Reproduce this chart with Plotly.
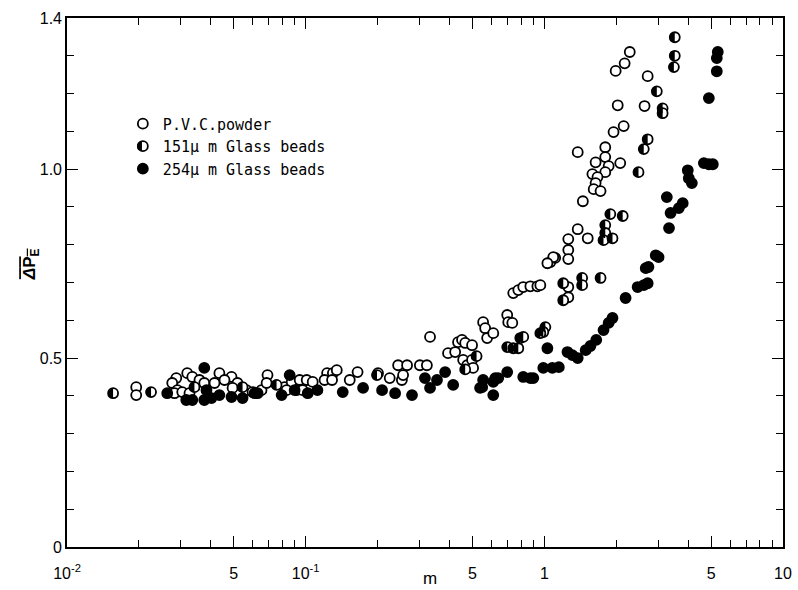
import plotly.graph_objects as go

# ---- data (m, dimensionless pressure drop) ----
pvc_m = [0.0195, 0.0195, 0.0287, 0.0276, 0.0290, 0.0282, 0.0319, 0.0335, 0.0304, 0.0326,
         0.0359, 0.0376, 0.0435, 0.0489, 0.0457, 0.0415, 0.0518, 0.0494, 0.0565, 0.0599,
         0.0653, 0.0692, 0.0816, 0.0874, 0.0944, 0.101, 0.107, 0.0832, 0.0917, 0.0971,
         0.123, 0.130, 0.120, 0.129, 0.0686, 0.135, 0.165, 0.153, 0.201, 0.225,
         0.253, 0.244, 0.266, 0.301, 0.322, 0.256, 0.332, 0.395, 0.423, 0.435,
         0.452, 0.466, 0.498, 0.457, 0.475, 0.498, 0.503, 0.554, 0.565, 0.576,
         0.611, 0.699, 0.706, 0.734, 0.741, 0.778, 0.816, 0.874, 0.935, 0.962,
         1.06, 1.11, 1.09, 1.03, 1.26, 1.26, 1.26, 1.26, 1.26, 1.38,
         1.52, 1.45, 1.38, 1.80, 1.80, 1.64, 1.86, 2.08, 1.80, 1.59,
         1.67, 1.64, 1.61, 1.72, 2.15, 1.95, 2.03, 2.63, 2.71, 2.28,
         2.17, 1.99]
pvc_y = [0.423, 0.402, 0.447, 0.434, 0.415, 0.407, 0.460, 0.450, 0.410, 0.407,
         0.442, 0.434, 0.460, 0.450, 0.442, 0.434, 0.434, 0.421, 0.415, 0.410,
         0.415, 0.455, 0.423, 0.437, 0.442, 0.442, 0.437, 0.415, 0.415, 0.415,
         0.460, 0.460, 0.442, 0.442, 0.434, 0.468, 0.463, 0.442, 0.460, 0.447,
         0.442, 0.481, 0.481, 0.481, 0.481, 0.455, 0.556, 0.513, 0.516, 0.542,
         0.548, 0.540, 0.534, 0.495, 0.481, 0.495, 0.474, 0.595, 0.579, 0.553,
         0.566, 0.614, 0.595, 0.593, 0.672, 0.680, 0.688, 0.690, 0.690, 0.693,
         0.754, 0.765, 0.767, 0.751, 0.815, 0.786, 0.762, 0.688, 0.661, 0.841,
         0.817, 0.915, 1.045, 1.058, 1.032, 1.018, 1.008, 1.016, 0.992, 0.987,
         0.979, 0.963, 0.947, 0.942, 1.114, 1.098, 1.169, 1.167, 1.246, 1.310,
         1.280, 1.260]

gb151_m = [0.0156, 0.0225, 0.0342, 0.0544, 0.0755, 0.199, 0.466, 0.520,
           0.699, 0.741, 0.778, 0.793, 0.816, 1.01, 0.99, 0.962,
           1.20, 1.20, 1.44, 1.44, 1.72, 1.89, 2.13, 1.80,
           1.80, 1.77, 1.93, 2.48, 2.71, 2.61, 3.13, 3.13,
           2.96, 3.52, 3.52, 3.49]
gb151_y = [0.407, 0.410, 0.423, 0.423, 0.429, 0.455, 0.470, 0.505,
           0.529, 0.526, 0.526, 0.553, 0.556, 0.582, 0.569, 0.566,
           0.698, 0.653, 0.712, 0.693, 0.712, 0.881, 0.876, 0.852,
           0.831, 0.812, 0.817, 0.992, 1.079, 1.053, 1.161, 1.148,
           1.206, 1.349, 1.300, 1.270]

gb254_m = [0.0263, 0.0316, 0.0335, 0.0376, 0.0376, 0.0384, 0.0403, 0.0435, 0.0489, 0.0544,
           0.0611, 0.0629, 0.0793, 0.0899, 0.102, 0.112, 0.0857, 0.143, 0.174, 0.209,
           0.237, 0.279, 0.332, 0.316, 0.355, 0.384, 0.415, 0.538, 0.611, 0.554,
           0.549, 0.611, 0.641, 0.699, 0.623, 0.816, 0.874, 0.899, 0.990, 1.08,
           1.15, 1.03, 1.25, 1.31, 1.38, 1.49, 1.56, 1.65, 1.77, 1.86,
           1.93, 2.19, 2.46, 2.61, 2.71, 2.66, 2.73, 2.93, 3.01, 3.33,
           3.38, 3.66, 3.80, 3.26, 3.99, 4.03, 4.15, 4.66, 4.89, 5.08,
           4.89, 5.33, 5.28, 5.28]
gb254_y = [0.407, 0.389, 0.389, 0.389, 0.474, 0.415, 0.394, 0.402, 0.397, 0.394,
           0.407, 0.407, 0.402, 0.415, 0.407, 0.415, 0.455, 0.410, 0.421, 0.415,
           0.407, 0.402, 0.421, 0.447, 0.442, 0.463, 0.429, 0.421, 0.402, 0.442,
           0.423, 0.437, 0.447, 0.463, 0.447, 0.450, 0.447, 0.447, 0.474, 0.474,
           0.476, 0.526, 0.516, 0.508, 0.500, 0.521, 0.532, 0.548, 0.574, 0.593,
           0.606, 0.659, 0.688, 0.693, 0.698, 0.738, 0.741, 0.772, 0.767, 0.844,
           0.884, 0.897, 0.910, 0.926, 0.997, 0.976, 0.963, 1.016, 1.013, 1.013,
           1.188, 1.310, 1.294, 1.259]

series_names = ["P.V.C.powder", "151\u03bc m Glass beads", "254\u03bc m Glass beads"]

x_tickvals = [0.01, 0.05, 0.1, 0.5, 1, 5, 10]
x_ticktext = ["10<sup>-2</sup>", "5", "10<sup>-1</sup>", "5", "1", "5", "10"]
x_minor = [d * f for d in (0.01, 0.1, 1) for f in (2, 3, 4, 6, 7, 8, 9)]
y_tickvals = [0, 0.5, 1.0, 1.4]
y_ticktext = ["0", "0.5", "1.0", "1.4"]

# ---- figure ----
SZ = 10
LW = 1.8
fig = go.Figure()
fig.add_trace(go.Scatter(x=pvc_m, y=pvc_y, mode="markers", name=series_names[0],
                         legendgroup="a",
                         marker=dict(symbol="circle", size=SZ, color="white",
                                     line=dict(color="black", width=LW))))
# legend-only entry for 151 um (transparent fill so the half fill below shows)
fig.add_trace(go.Scatter(x=[None], y=[None], mode="markers", name=series_names[1],
                         legendgroup="b",
                         marker=dict(symbol="circle", size=SZ, color="rgba(0,0,0,0)",
                                     line=dict(color="black", width=LW))))
fig.add_trace(go.Scatter(x=gb151_m, y=gb151_y, mode="markers", name=series_names[1],
                         legendgroup="b", showlegend=False,
                         marker=dict(symbol="circle", size=SZ, color="white",
                                     line=dict(color="black", width=LW))))
fig.add_trace(go.Scatter(x=gb254_m, y=gb254_y, mode="markers", name=series_names[2],
                         legendgroup="c",
                         marker=dict(symbol="circle", size=SZ, color="black",
                                     line=dict(color="black", width=LW))))

# left-half fill for the 151 um markers (pixel-sized, anchored at data points)
r = SZ / 2
k = 0.5523
half_path = (f"M 0,{r} C {-k*r},{r} {-r},{k*r} {-r},0 "
             f"C {-r},{-k*r} {-k*r},{-r} 0,{-r} Z")
for mx, my in zip(gb151_m, gb151_y):
    fig.add_shape(type="path", xref="x", yref="y", xsizemode="pixel", ysizemode="pixel",
                  xanchor=mx, yanchor=my, path=half_path, fillcolor="black",
                  line=dict(width=0), layer="above")

# same half fill under the legend symbol of the 151 um entry
LEG_X, LEG_Y = 0.078, 0.831
fig.add_shape(type="path", xref="paper", yref="paper", xsizemode="pixel", ysizemode="pixel",
              xanchor=0.1047, yanchor=0.758, path=half_path, fillcolor="black",
              line=dict(width=0), layer="above")

font_main = "Liberation Sans, Arial, sans-serif"

fig.update_layout(
    width=798, height=590,
    margin=dict(l=67, r=15, t=18, b=43),
    paper_bgcolor="white", plot_bgcolor="white",
    showlegend=True,
    legend=dict(x=LEG_X, y=LEG_Y, xanchor="left", yanchor="top",
                bgcolor="rgba(0,0,0,0)", borderwidth=0, tracegroupgap=0,
                font=dict(family="DejaVu Sans Mono, monospace", size=15, color="black")),
    font=dict(family=font_main, size=16, color="black"),
)
fig.update_xaxes(type="log", range=[-2, 1], showgrid=False, zeroline=False,
                 showline=True, linecolor="black", linewidth=1.6, mirror="allticks",
                 ticks="inside", ticklen=11, tickwidth=1.3, tickcolor="black",
                 tickvals=x_tickvals, ticktext=x_ticktext, ticklabelstandoff=11,
                 automargin=False,
                 tickfont=dict(family=font_main, size=16),
                 minor=dict(tickvals=x_minor, ticks="inside", ticklen=7, tickwidth=1.2,
                            tickcolor="black", showgrid=False))
fig.update_yaxes(range=[0, 1.4], showgrid=False, zeroline=False,
                 showline=True, linecolor="black", linewidth=1.6, mirror="allticks",
                 ticks="inside", ticklen=11, tickwidth=1.3, tickcolor="black",
                 tickvals=y_tickvals, ticktext=y_ticktext, automargin=False,
                 tickfont=dict(family=font_main, size=16),
                 minor=dict(dtick=0.1, ticks="inside", ticklen=7, tickwidth=1.2,
                            tickcolor="black", showgrid=False))

fig.add_annotation(xref="paper", yref="paper", x=0.507, y=-0.06, showarrow=False,
                   xanchor="center", yanchor="middle", text="m",
                   font=dict(family=font_main, size=17, color="black"))
fig.add_annotation(xref="paper", yref="paper", x=-0.05, y=0.535, showarrow=False,
                   textangle=-90, xanchor="center", yanchor="middle",
                   text='<span style="text-decoration:overline"><b><i>\u0394</i>P<sub>E</sub></b></span>',
                   font=dict(family=font_main, size=17, color="black"))

fig.write_html("out.html")
